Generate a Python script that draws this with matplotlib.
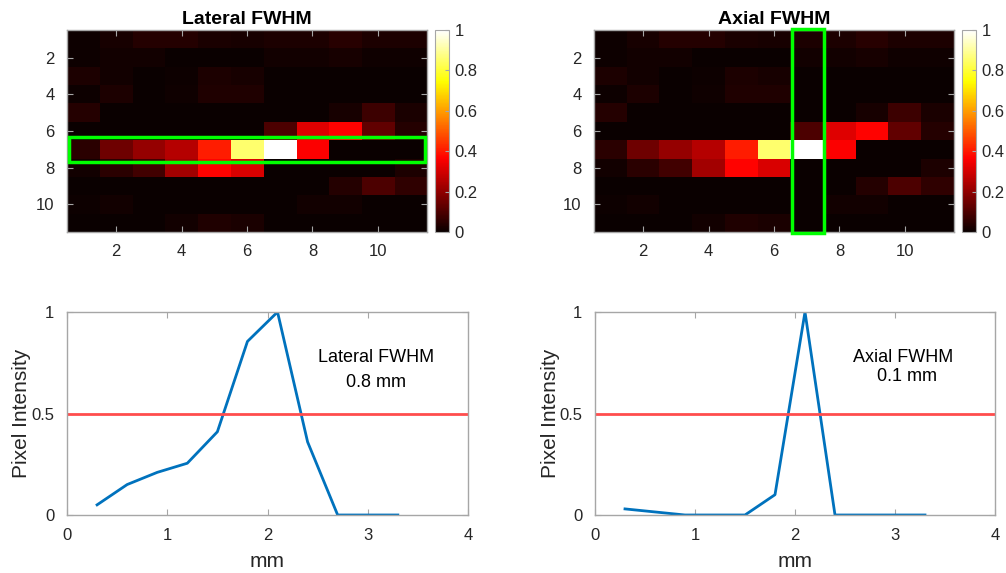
import numpy as np
import matplotlib
matplotlib.use("Agg")
import matplotlib.pyplot as plt
from matplotlib.patches import Rectangle

plt.rcParams['font.family'] = ['Liberation Sans', 'DejaVu Sans']

# 11x11 intensity map (rows top->bottom, cols left->right)
psf_map = np.array([
    [0.005, 0.020, 0.040, 0.040, 0.025, 0.020, 0.030, 0.030, 0.045, 0.030, 0.030],
    [0.005, 0.015, 0.012, 0.000, 0.000, 0.000, 0.015, 0.012, 0.020, 0.010, 0.010],
    [0.030, 0.015, 0.000, 0.005, 0.030, 0.020, 0.000, 0.000, 0.000, 0.000, 0.000],
    [0.005, 0.030, 0.000, 0.010, 0.035, 0.035, 0.000, 0.000, 0.000, 0.000, 0.000],
    [0.040, 0.000, 0.000, 0.000, 0.000, 0.000, 0.000, 0.000, 0.020, 0.075, 0.025],
    [0.000, 0.000, 0.000, 0.000, 0.000, 0.000, 0.100, 0.320, 0.370, 0.130, 0.040],
    [0.050, 0.150, 0.210, 0.255, 0.410, 0.855, 1.000, 0.360, 0.000, 0.000, 0.000],
    [0.015, 0.050, 0.085, 0.230, 0.370, 0.310, 0.000, 0.000, 0.000, 0.000, 0.030],
    [0.000, 0.000, 0.000, 0.000, 0.000, 0.000, 0.000, 0.000, 0.040, 0.100, 0.055],
    [0.005, 0.015, 0.000, 0.000, 0.000, 0.000, 0.000, 0.015, 0.015, 0.000, 0.000],
    [0.000, 0.000, 0.000, 0.015, 0.035, 0.025, 0.000, 0.000, 0.000, 0.000, 0.000],
])

profile_x = [0.3, 0.6, 0.9, 1.2, 1.5, 1.8, 2.1, 2.4, 2.7, 3.0, 3.3]
lateral_profile = [0.05, 0.15, 0.21, 0.255, 0.41, 0.855, 1.0, 0.36, 0.0, 0.0, 0.0]
axial_profile = [0.03, 0.015, 0.0, 0.0, 0.0, 0.1, 1.0, 0.0, 0.0, 0.0, 0.0]
half_max = 0.5

titles = ["Lateral FWHM", "Axial FWHM"]
fwhm_labels = ["0.8 mm", "0.1 mm"]

W, H = 1006, 573
fig = plt.figure(figsize=(W / 100, H / 100), dpi=100)

def ax_px(l, t, r, b):
    return fig.add_axes([l / W, 1 - b / H, (r - l) / W, (b - t) / H])

frame_col = '#a6a6a6'
txt_col = '#262626'
blue = (0.0, 0.447, 0.741)

def style(ax):
    for s in ax.spines.values():
        s.set_color(frame_col)
        s.set_linewidth(1.0)
    ax.tick_params(direction='in', colors=frame_col, labelcolor=txt_col,
                   labelsize=12, length=4, top=True, right=True, pad=9)

heat_boxes = [(67, 30, 427, 232), (594, 30, 954, 232)]
cbar_boxes = [(435, 30, 449, 232), (962, 30, 976, 232)]
line_boxes = [(67, 312, 468, 515), (595, 312, 995, 515)]

for i in range(2):
    ax = ax_px(*heat_boxes[i])
    im = ax.imshow(psf_map, cmap='hot', vmin=0, vmax=1, aspect='auto',
                   extent=[0.5, 11.5, 11.5, 0.5], interpolation='nearest')
    ax.set_xticks([2, 4, 6, 8, 10])
    ax.set_yticks([2, 4, 6, 8, 10])
    style(ax)
    ax.tick_params(labeltop=False, labelright=False)
    ax.set_title(titles[i], fontsize=14, fontweight='bold', color='black', pad=4)
    if i == 0:
        rect = Rectangle((0.55, 6.35), 10.9, 1.35, fill=False, edgecolor='#00ff00',
                         linewidth=2.5, clip_on=False, zorder=5)
    else:
        rect = Rectangle((6.54, 0.45), 0.98, 11.1, fill=False, edgecolor='#00ff00',
                         linewidth=2.5, clip_on=False, zorder=5)
    ax.add_patch(rect)

    cax = ax_px(*cbar_boxes[i])
    cb = fig.colorbar(im, cax=cax)
    cb.set_ticks([0, 0.2, 0.4, 0.6, 0.8, 1])
    cb.set_ticklabels(['0', '0.2', '0.4', '0.6', '0.8', '1'])
    cb.outline.set_edgecolor(frame_col)
    cax.tick_params(direction='in', colors=frame_col, labelcolor=txt_col,
                    labelsize=12, length=3, pad=4)

profiles = [lateral_profile, axial_profile]
for i in range(2):
    ax = ax_px(*line_boxes[i])
    ax.plot(profile_x, profiles[i], color=blue, linewidth=2)
    ax.axhline(half_max, color='#ff4d4d', linewidth=2)
    ax.set_xlim(0, 4)
    ax.set_ylim(0, 1)
    ax.set_xticks([0, 1, 2, 3, 4])
    ax.set_yticks([0, 0.5, 1])
    ax.set_yticklabels(['0', '0.5', '1'])
    style(ax)
    ax.set_xlabel('mm', fontsize=15, color=txt_col, labelpad=7)
    ax.set_ylabel('Pixel Intensity', fontsize=15, color=txt_col, labelpad=0)
    ax.text(3.08, 0.775, titles[i], fontsize=13, ha='center', va='center', color='black')
    ax.text(3.08 + (0.04 if i == 1 else 0), 0.655 if i == 0 else 0.68,
            fwhm_labels[i], fontsize=13, ha='center', va='center', color='black')

fig.savefig('out.png', dpi=100)
